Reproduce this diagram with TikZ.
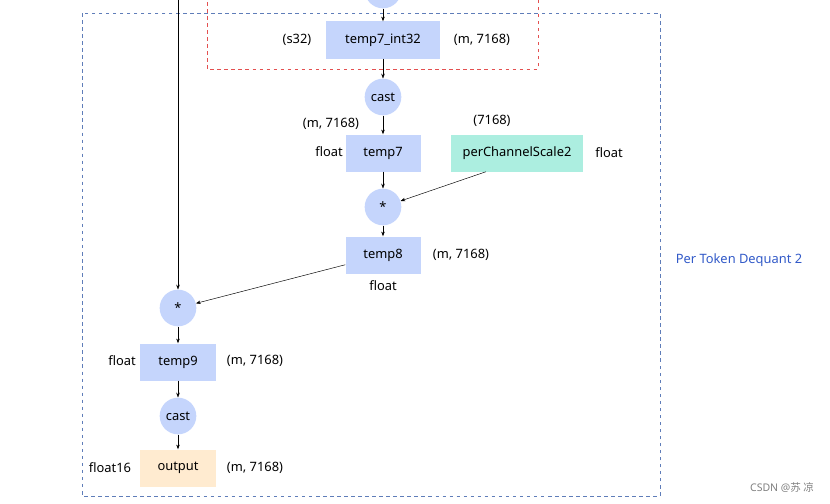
\documentclass[tikz,border=0pt]{standalone}
\usepackage{fontspec}
\setmainfont{Noto Sans}
\newfontfamily\cjk{Noto Sans CJK SC}
\usetikzlibrary{arrows.meta,positioning}
\definecolor{dqblue}{RGB}{197,213,252}
\definecolor{dqteal}{RGB}{172,238,224}
\definecolor{dqpeach}{RGB}{255,235,208}
\definecolor{dqframe}{RGB}{95,125,185}
\definecolor{dqred}{RGB}{228,80,80}
\definecolor{dqlabel}{RGB}{50,90,200}
\begin{document}
\begin{tikzpicture}[x=0.03cm, y=-0.03cm, every node/.style={font=\fontsize{11}{13}\selectfont},
    tensor/.style={fill=dqblue, minimum width=2.25cm, minimum height=1.11cm, inner sep=1pt},
    op/.style={circle, fill=dqblue, minimum size=1.1cm, inner sep=0pt},
    flow/.style={-{Stealth[length=4pt,width=3pt]}, thin}]
    \useasboundingbox (0,0) rectangle (830,504);
    % Frames
    \draw[dqframe, dashed] (82,13) rectangle (660,496);
    \draw[dqred, dashed] (207,-5) -- (207,69) -- (538,69) -- (538,-5);
    \node[dqlabel] (title) at (739,260) {Per Token Dequant 2};

    % Upper branch
    \node[op] (mulin) at (383,-10) {};
    \node[tensor, minimum width=3.4cm] (t7i) at (383,40) {temp7\_int32};
    \node at (297,40) {(s32)};
    \node at (482,40) {(m, 7168)};
    \node[op] (cast1) at (383,97) {cast};
    \node[tensor] (t7) at (383,153) {temp7};
    \node at (331,124) {(m, 7168)};
    \node at (329,152) {float};
    \node[tensor, fill=dqteal, minimum width=3.95cm] (pcs) at (517,153) {perChannelScale2};
    \node at (492,121) {(7168)};
    \node at (609,153) {float};
    \node[op] (mul1) at (383,207) {*};
    \node[tensor] (t8) at (383,255) {temp8};
    \node at (461,255) {(m, 7168)};
    \node at (383,286) {float};

    % Lower branch
    \coordinate (src) at (178,-5);
    \node[op] (mul2) at (178,308) {*};
    \node[tensor] (t9) at (178,362) {temp9};
    \node at (122,361) {float};
    \node at (255,361) {(m, 7168)};
    \node[op] (cast2) at (178,416) {cast};
    \node[tensor, fill=dqpeach] (out) at (178,468) {output};
    \node at (110,468) {float16};
    \node at (255,468) {(m, 7168)};

    % Connectors
    \draw[flow] (mulin) -- (t7i);
    \draw[flow] (t7i) -- (cast1);
    \draw[flow] (cast1) -- (t7);
    \draw[flow] (t7) -- (mul1);
    \draw[flow] (pcs.south west) ++(35,0) -- (mul1);
    \draw[flow] (mul1) -- (t8);
    \draw[flow] (t8) -- (mul2);
    \draw[flow] (src) -- (mul2);
    \draw[flow] (mul2) -- (t9);
    \draw[flow] (t9) -- (cast2);
    \draw[flow] (cast2) -- (out);

    \node[gray, font=\small] (mark) at (782,488) {CSDN @{\cjk 苏 凉}};
\end{tikzpicture}
\end{document}
